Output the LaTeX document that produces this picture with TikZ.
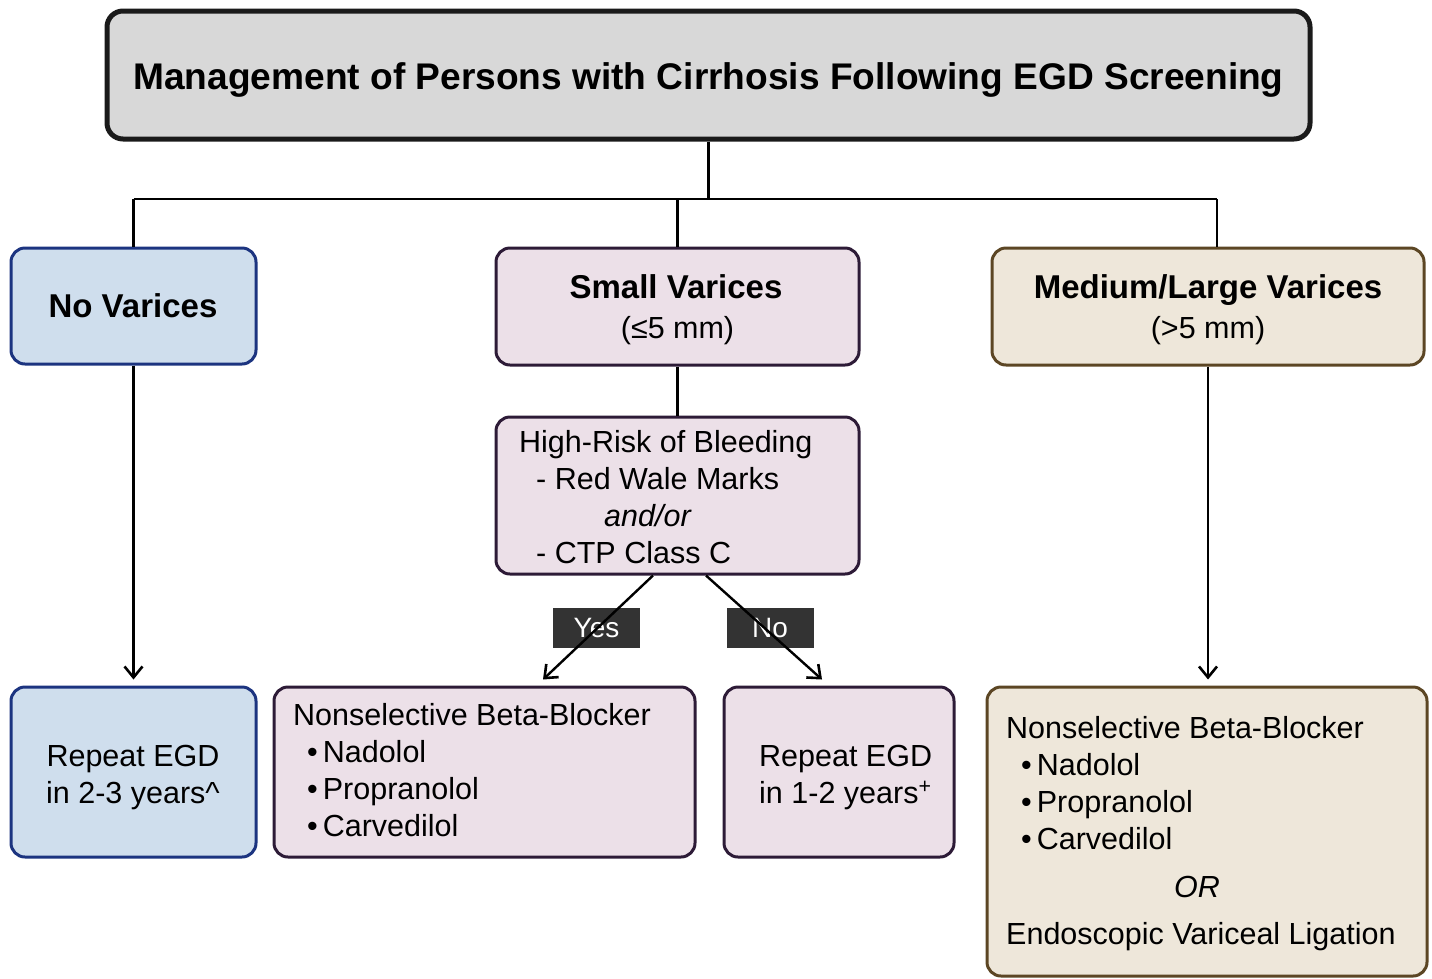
\documentclass[tikz,border=0pt]{standalone}
\usepackage{fontspec}
\setmainfont{Liberation Sans}
\usetikzlibrary{arrows.meta}
\definecolor{titlefill}{RGB}{216,216,216}
\definecolor{titledraw}{RGB}{26,26,26}
\definecolor{bluefill}{RGB}{207,222,237}
\definecolor{bluedraw}{RGB}{28,52,128}
\definecolor{pinkfill}{RGB}{236,224,232}
\definecolor{pinkdraw}{RGB}{45,27,55}
\definecolor{beigefill}{RGB}{238,231,218}
\definecolor{beigedraw}{RGB}{92,70,36}
\definecolor{labfill}{RGB}{51,51,51}
\begin{document}
\begin{tikzpicture}[x=1pt,y=-1pt,
  box/.style={draw, rounded corners=14pt, line width=3pt, inner sep=0pt},
  bluebox/.style={box, fill=bluefill, draw=bluedraw},
  pinkbox/.style={box, fill=pinkfill, draw=pinkdraw},
  beigebox/.style={box, fill=beigefill, draw=beigedraw},
  txt/.style={inner sep=0pt, anchor=base west, font=\fontsize{30.5}{37}\selectfont},
  ctxt/.style={txt, anchor=base},
  btxt/.style={inner sep=0pt, anchor=base, font=\fontsize{33}{39}\selectfont\bfseries},
  lab/.style={fill=labfill, text=white, inner sep=0pt, minimum width=87pt, minimum height=40pt, font=\fontsize{28}{34}\selectfont},
  conn/.style={line width=2.4pt, black},
  arr/.style={conn, -{Straight Barb[length=11pt,width=18pt,line width=2.6pt]}}
]
\useasboundingbox (0,0) rectangle (1432,978);

% boxes
\node[box, fill=titlefill, draw=titledraw, line width=5pt, rounded corners=16pt, minimum width=1203pt, minimum height=128pt] (title) at (708.5,75) {};
\node[bluebox, minimum width=245pt, minimum height=116pt] (novar) at (133.5,306) {};
\node[pinkbox, minimum width=363pt, minimum height=117pt] (small) at (677.5,306.5) {};
\node[beigebox, minimum width=432pt, minimum height=117pt] (med) at (1208,306.5) {};
\node[pinkbox, minimum width=363pt, minimum height=157pt] (risk) at (677.5,495.5) {};
\node[bluebox, minimum width=245pt, minimum height=170pt] (rep23) at (133.5,772) {};
\node[pinkbox, minimum width=421pt, minimum height=170pt] (nsbb) at (484.5,772) {};
\node[pinkbox, minimum width=230pt, minimum height=170pt] (rep12) at (839,772) {};
\node[beigebox, minimum width=440pt, minimum height=289pt] (right) at (1207,831.5) {};

% texts
\node[inner sep=0pt, anchor=base, font=\fontsize{37.1}{43}\selectfont\bfseries] (ttl) at (708.5,89) {Management of Persons with Cirrhosis Following EGD Screening};
\node[btxt] (t1) at (133,317.5) {No Varices};
\node[btxt] (t2) at (676,298.5) {Small Varices};
\node[ctxt] (t3) at (677.5,338) {(≤5 mm)};
\node[btxt] (t4) at (1208,298.5) {Medium/Large Varices};
\node[ctxt] (t5) at (1208,338) {(>5 mm)};

\node[txt] (r1) at (519,452) {High-Risk of Bleeding};
\node[txt] (r2) at (536,489) {- Red Wale Marks};
\node[txt] (r3) at (604,526) {\itshape and/or};
\node[txt] (r4) at (536,563) {- CTP Class C};

\node[ctxt] (a1) at (133,766) {Repeat EGD};
\node[ctxt] (a2) at (133,803) {in 2-3 years\^{}};

\node[txt] (b1) at (293,725) {Nonselective Beta-Blocker};
\node[txt] (b2) at (307,762) {•\hspace{5pt}Nadolol};
\node[txt] (b3) at (307,799) {•\hspace{5pt}Propranolol};
\node[txt] (b4) at (307,836) {•\hspace{5pt}Carvedilol};

\node[txt] (c1) at (759,766) {Repeat EGD};
\node[txt] (c2) at (759,803) {in 1-2 years\textsuperscript{+}};

\node[txt] (d1) at (1006,738) {Nonselective Beta-Blocker};
\node[txt] (d2) at (1021,775) {•\hspace{5pt}Nadolol};
\node[txt] (d3) at (1021,812) {•\hspace{5pt}Propranolol};
\node[txt] (d4) at (1021,849) {•\hspace{5pt}Carvedilol};
\node[ctxt] (d5) at (1197,897) {\itshape OR};
\node[txt] (d6) at (1006,944) {Endoscopic Variceal Ligation};

% labels
\node[lab] (yes) at (596.5,628) {Yes};
\node[lab] (no) at (770,628) {No};

% connectors
\coordinate (hl) at (133.5,199);
\coordinate (hr) at (1217,199);
\draw[conn] (title.south) -- (title.south |- hl);
\draw[conn] (hl) -- (hr);
\draw[conn] (hl) -- (novar.north);
\draw[conn] (small.north |- hl) -- (small.north);
\draw[conn] (hr) -- (hr |- med.north);
\draw[conn] (small.south) -- (risk.north);
\draw[arr, shorten >=6pt] (novar.south) -- (rep23.north);
\draw[arr, shorten >=6pt] (med.south) -- (med.south |- right.north);
\coordinate (ys) at ([xshift=-24.5pt]risk.south);
\coordinate (ye) at ([xshift=58.5pt,yshift=6pt]nsbb.north);
\coordinate (ns) at ([xshift=28.5pt]risk.south);
\coordinate (ne) at ([xshift=-17pt,yshift=6pt]rep12.north);
\draw[arr] (ys) -- (ye);
\draw[arr] (ns) -- (ne);
\end{tikzpicture}
\end{document}
